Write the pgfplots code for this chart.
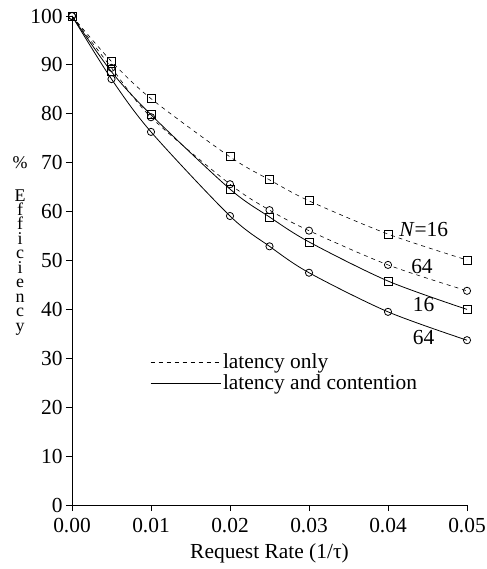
\documentclass[border=0pt]{standalone}
\usepackage{pgfplots}
\pgfplotsset{compat=1.18}
\usepackage{fontspec}
\setmainfont{Liberation Serif}
\begin{document}
\begin{tikzpicture}
\path[use as bounding box] (-72bp,-64bp) rectangle (415bp,505bp);
\begin{axis}[
  scale only axis, width=395bp, height=489bp,
  at={(0,0)}, anchor=south west,
  xmin=0, xmax=0.05, ymin=0, ymax=100,
  axis lines=left, axis line style={-, line width=1bp},
  xtick={0,0.01,0.02,0.03,0.04,0.05},
  ytick={0,10,20,30,40,50,60,70,80,90,100},
  tick align=outside, major tick length=6bp,
  tick style={line width=0.8bp, black},
  /pgf/number format/assume math mode=true,
  xticklabel style={/pgf/number format/fixed, /pgf/number format/precision=2, /pgf/number format/fixed zerofill, yshift=-4bp},
  scaled x ticks=false,
  tick label style={font=\fontsize{21.5}{24}\selectfont},
  xlabel={Request Rate (1/τ)},
  xlabel style={font=\fontsize{21.5}{24}\selectfont, yshift=-4bp},
  ylabel={\%\\[18bp]E\\f\\f\\i\\c\\i\\e\\n\\c\\y},
  ylabel style={rotate=-90, align=center, font=\fontsize{18}{14.5}\selectfont, at={(axis description cs:0,0.53)}, anchor=center, xshift=-52bp},
  clip=false,
  legend style={at={(rel axis cs:0.19,0.318)}, anchor=north west, draw=none, fill=none, font=\fontsize{21.5}{24}\selectfont, row sep=1bp},
  legend cell align=left,
  legend image code/.code={\draw[#1] (0bp,0bp) -- (70bp,0bp);},
]
\addlegendimage{black, line width=0.6bp, dash pattern=on 4bp off 4bp}
\addlegendentry{latency only}
\addlegendimage{black, line width=0.8bp}
\addlegendentry{latency and contention}

% latency only, N=16
\addplot[black, line width=0.6bp, dash pattern=on 4bp off 4bp, smooth, mark=square, mark size=4bp, mark options={solid, fill=white, line width=0.8bp}] coordinates {
(0,100) (0.005,90.7) (0.01,83.1) (0.02,71.2) (0.025,66.5) (0.03,62.2) (0.04,55.4) (0.05,50.1)};
% latency only, N=64
\addplot[black, line width=0.6bp, dash pattern=on 4bp off 4bp, smooth, mark=o, mark size=3.6bp, mark options={solid, fill=white, line width=0.8bp}] coordinates {
(0,100) (0.005,89.4) (0.01,79.3) (0.02,65.6) (0.025,60.3) (0.03,56.1) (0.04,49.1) (0.05,43.8)};
% latency and contention, N=16
\addplot[black, line width=0.8bp, smooth, mark=square, mark size=4bp, mark options={solid, fill=white, line width=0.8bp}] coordinates {
(0,100) (0.005,88.6) (0.01,79.8) (0.02,64.6) (0.025,58.9) (0.03,53.8) (0.04,45.8) (0.05,40.0)};
% latency and contention, N=64
\addplot[black, line width=0.8bp, smooth, mark=o, mark size=3.6bp, mark options={solid, fill=white, line width=0.8bp}] coordinates {
(0,100) (0.005,87.1) (0.01,76.3) (0.02,59.1) (0.025,52.9) (0.03,47.5) (0.04,39.5) (0.05,33.7)};

\node[font=\fontsize{21.5}{24}\selectfont, anchor=west, inner sep=0pt] at (axis cs:0.0414,56.4) {\textit{N}=16};
\node[font=\fontsize{21.5}{24}\selectfont, inner sep=0pt] at (axis cs:0.0443,48.7) {64};
\node[font=\fontsize{21.5}{24}\selectfont, inner sep=0pt] at (axis cs:0.0445,40.9) {16};
\node[font=\fontsize{21.5}{24}\selectfont, inner sep=0pt] at (axis cs:0.0445,34.2) {64};
\end{axis}
\end{tikzpicture}
\end{document}
